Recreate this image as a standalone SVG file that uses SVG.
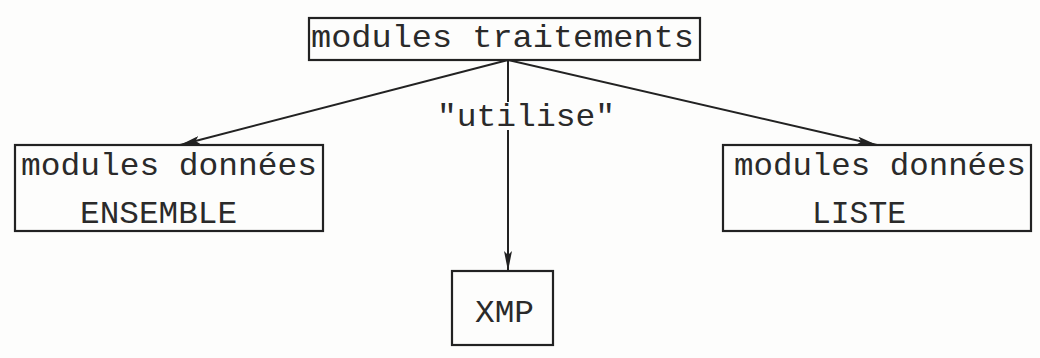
<svg xmlns="http://www.w3.org/2000/svg" width="1040" height="358" viewBox="0 0 1040 358">
<defs>
<style>
.box{fill:none;stroke:#222;stroke-width:2.2}
.t{font-family:"Liberation Mono","Courier New",monospace;font-size:32px;fill:#2a2a2a}
.c{stroke:#222;stroke-width:2;fill:none}
</style>
<marker id="ah" viewBox="0 0 20 8" refX="20" refY="4" markerWidth="20" markerHeight="8" markerUnits="userSpaceOnUse" orient="auto">
<path d="M0,0 L20,4 L0,8 L4,4 Z" fill="#222"/>
</marker>
</defs>
<rect width="1040" height="358" fill="#fdfdfc"/>
<g id="connectors">
<line class="c" x1="508" y1="60" x2="180" y2="145" marker-end="url(#ah)"/>
<line class="c" x1="508" y1="60" x2="877" y2="145" marker-end="url(#ah)"/>
<line class="c" x1="508" y1="60" x2="508" y2="102"/>
<line class="c" x1="508" y1="130" x2="508" y2="271" marker-end="url(#ah)"/>
<text class="t" x="437" y="126" textLength="178" lengthAdjust="spacingAndGlyphs">"utilise"</text>
</g>
<g id="node-traitements">
<rect class="box" x="309" y="18" width="391" height="42"/>
<text class="t" x="311" y="47" textLength="383" lengthAdjust="spacingAndGlyphs">modules traitements</text>
</g>
<g id="node-ensemble">
<rect class="box" x="15" y="145" width="308" height="86"/>
<text class="t" x="21" y="175" textLength="296" lengthAdjust="spacingAndGlyphs">modules données</text>
<text class="t" x="80" y="223" textLength="157" lengthAdjust="spacingAndGlyphs">ENSEMBLE</text>
</g>
<g id="node-liste">
<rect class="box" x="723" y="145" width="308" height="86"/>
<text class="t" x="734" y="175" textLength="292" lengthAdjust="spacingAndGlyphs">modules données</text>
<text class="t" x="812" y="223" textLength="94" lengthAdjust="spacingAndGlyphs">LISTE</text>
</g>
<g id="node-xmp">
<rect class="box" x="452" y="271" width="101" height="74"/>
<text class="t" x="475" y="322" textLength="59" lengthAdjust="spacingAndGlyphs">XMP</text>
</g>
</svg>
